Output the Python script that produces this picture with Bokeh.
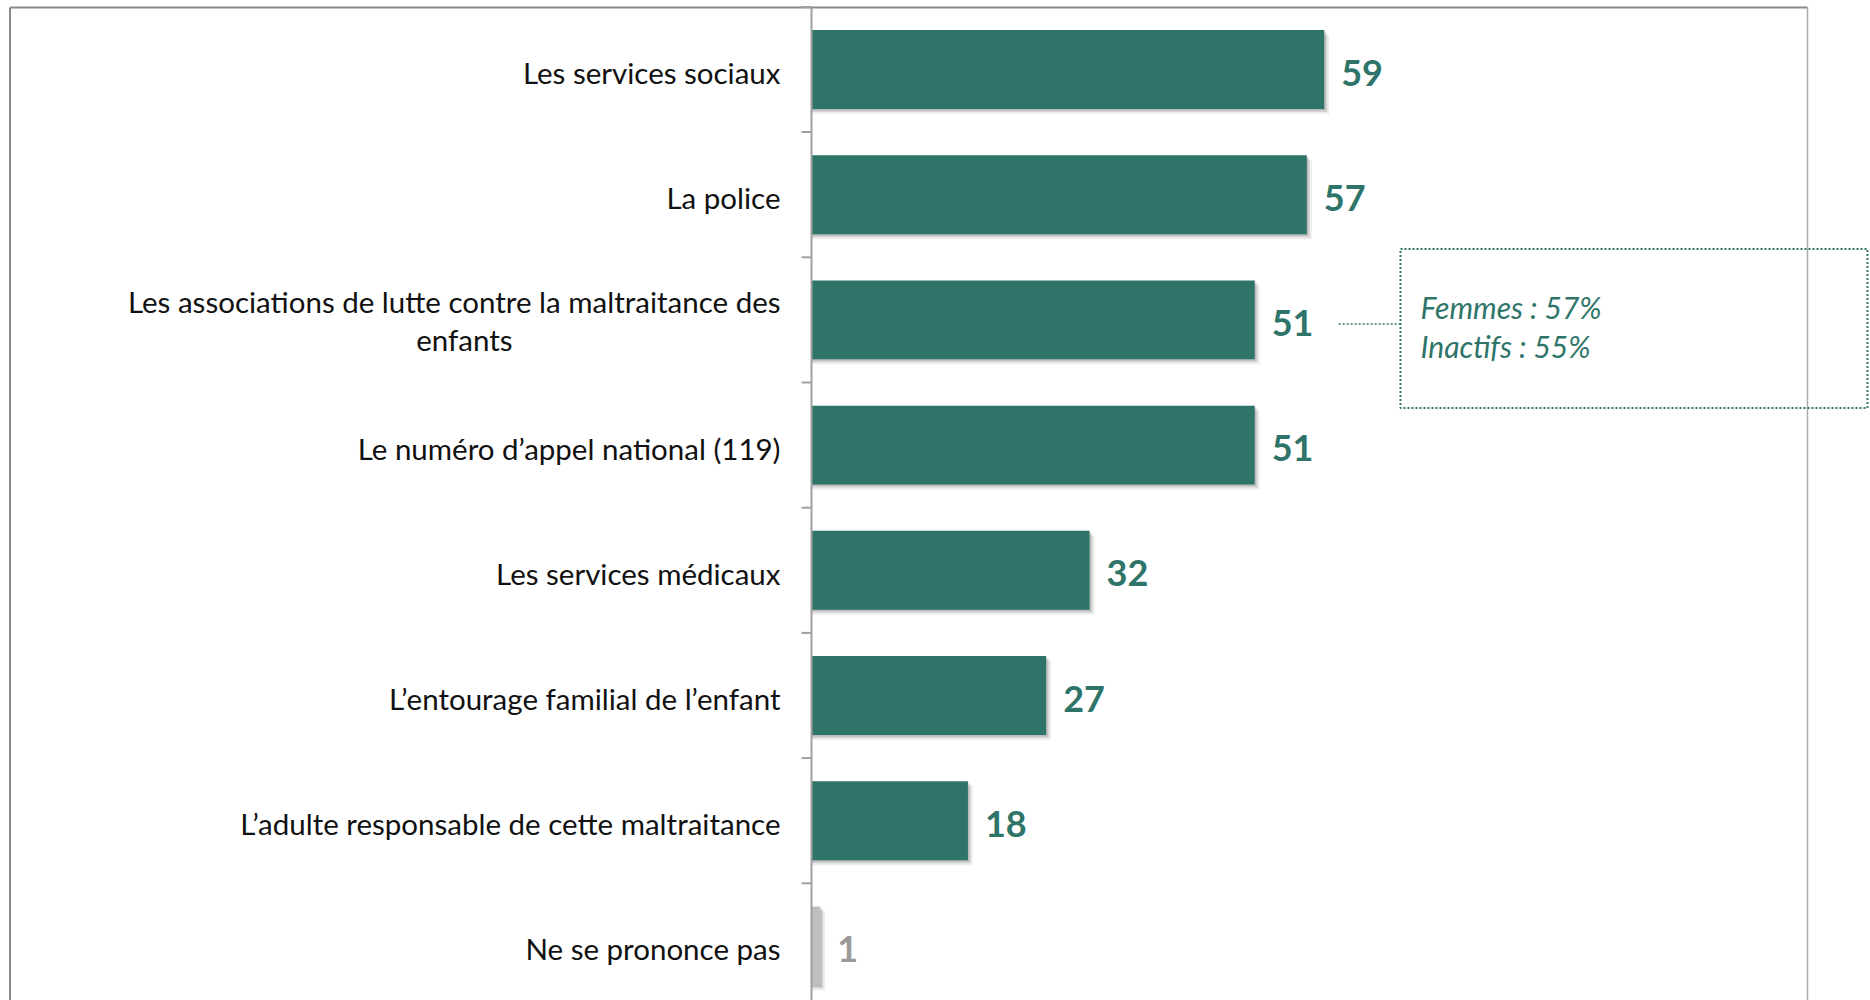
import textwrap
from bokeh.plotting import figure
from bokeh.models import Range1d, ColumnDataSource
from bokeh.core.properties import value
from bokeh.embed import file_html
from bokeh.resources import INLINE

# ---------------- data ----------------
categories = [
    "Les services sociaux",
    "La police",
    "Les associations de lutte contre la maltraitance des enfants",
    "Le numéro d’appel national (119)",
    "Les services médicaux",
    "L’entourage familial de l’enfant",
    "L’adulte responsable de cette maltraitance",
    "Ne se prononce pas",
]
values = [59, 57, 51, 51, 32, 27, 18, 1]
value_labels = [str(v) for v in values]

annot_category = "Les associations de lutte contre la maltraitance des enfants"
annot_lines = ["Femmes : 57%", "Inactifs : 55%"]

# ---------------- layout / style ----------------
W, H = 1870, 1000
PPU = 8.69            # pixels per percentage point
AXIS_PX = 811         # canvas x of the value axis
ROW_PX = 125.2        # pixels per category row
ROW0_PX = 69          # canvas y of first row centre

TEAL = "#2E7469"
GREY_BAR = "#BFBFBF"
GREY_TXT = "#9A9A9A"
FONT = "Lato"

x_start = -AXIS_PX / PPU
x_end = (W - AXIS_PX) / PPU
y_top = -ROW0_PX / ROW_PX
y_bottom = (H - ROW0_PX) / ROW_PX


def dx(px):
    return px / PPU


def dy(px):
    return px / ROW_PX


p = figure(
    width=W, height=H,
    x_range=Range1d(x_start, x_end),
    y_range=Range1d(y_bottom, y_top),
    min_border=0,
    x_axis_location=None, y_axis_location=None,
    toolbar_location=None, output_backend="svg",
    outline_line_color=None,
    background_fill_color="white", border_fill_color="white",
)
p.xgrid.visible = False
p.ygrid.visible = False

n = len(categories)
idx = list(range(n))
is_nsp = [c == "Ne se prononce pas" for c in categories]
bar_colors = [GREY_BAR if g else TEAL for g in is_nsp]
txt_colors = [GREY_TXT if g else TEAL for g in is_nsp]

# outer frame (left, top, right edges)
fl, fr = x_start + dx(9.5), x_start + dx(1807)
ft, fb = y_top + dy(7), y_bottom + dy(20)
p.segment(x0=[fl, fl], y0=[ft, ft], x1=[fl, fr], y1=[fb, ft], line_color="#8A8A8A", line_width=2)
p.segment(x0=[fr], y0=[ft], x1=[fr], y1=[fb], line_color="#ABABAB", line_width=1.5)

# bar shadows
for off, alpha in [(5, 0.07), (3, 0.10), (1.5, 0.12)]:
    p.hbar(y=[i + dy(off) for i in idx], left=0, right=[v + dx(off) for v in values],
           height=0.63, fill_color="black", fill_alpha=alpha, line_color=None)

# bars
src = ColumnDataSource(dict(y=idx, v=values, lab=value_labels, bc=bar_colors, tc=txt_colors))
p.hbar(y="y", left=0, right="v", height=0.63, fill_color="bc", line_color=None, source=src)

# value axis line and ticks
p.segment(x0=[0], x1=[0], y0=[ft], y1=[fb], line_color="#A0A0A0", line_width=2)
bounds = [i - 0.5 for i in range(n + 1)]
p.segment(x0=[-dx(10)] * len(bounds), x1=[0] * len(bounds), y0=bounds, y1=bounds,
          line_color="#A0A0A0", line_width=2)

# value labels
p.text(x="v", y="y", text="lab", source=src, x_offset=17, y_offset=3,
       text_font=value(FONT), text_font_style="bold", text_font_size="36px",
       text_color="tc", text_baseline="middle", text_align="left")

# category labels (wrapped like the original)
lx, ly, lt, la, lxo, lyo = [], [], [], [], [], []
for i, c in enumerate(categories):
    lines = textwrap.wrap(c, 53)
    if len(lines) == 1:
        lx.append(0); ly.append(i); lt.append(lines[0]); la.append("right"); lxo.append(-31); lyo.append(3)
    else:
        lx.append(0); ly.append(i); lt.append(lines[0]); la.append("right"); lxo.append(-31); lyo.append(-18)
        lx.append(0); ly.append(i); lt.append(lines[1]); la.append("right"); lxo.append(-299); lyo.append(20)
lsrc = ColumnDataSource(dict(x=lx, y=ly, t=lt, a=la, xo=lxo, yo=lyo))
p.text(x="x", y="y", text="t", source=lsrc, x_offset="xo", y_offset="yo", text_align="a",
       text_font=value(FONT), text_font_size="29.5px", text_color="#111111",
       text_baseline="middle")

# annotation box (dotted) for the associations row
ai = categories.index(annot_category)
box_left = dx(1400 - AXIS_PX)
box_right = dx(1867 - AXIS_PX)
p.quad(left=[box_left], right=[box_right], top=[ai - dy(71)], bottom=[ai + dy(88)],
       fill_color=None, line_color=TEAL, line_width=2, line_dash="2 2")
p.segment(x0=[values[ai] + dx(84)], x1=[box_left], y0=[ai + dy(4)], y1=[ai + dy(4)],
          line_color=TEAL, line_width=1.5, line_dash="2 2")
p.text(x=[dx(1420 - AXIS_PX)] * len(annot_lines),
       y=[ai + dy(-13 + 39 * k) for k in range(len(annot_lines))],
       text=annot_lines, text_font=value(FONT), text_font_style="italic",
       text_font_size="30px", text_color=TEAL, text_baseline="middle")

open("out.html", "w").write(file_html(p, INLINE))
